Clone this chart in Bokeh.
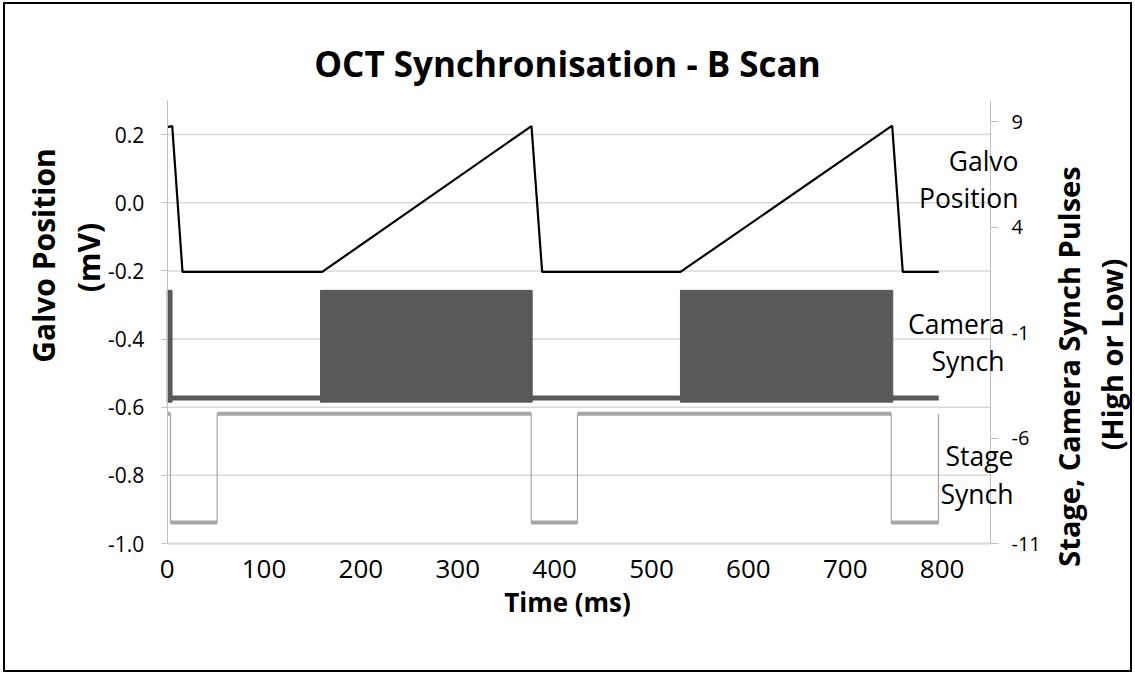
import numpy as np
from bokeh.plotting import figure
from bokeh.models import Range1d, LinearAxis, FixedTicker, PrintfTickFormatter, Label
from bokeh.embed import file_html
from bokeh.resources import INLINE

# ---------------- data ----------------
# Galvo position (mV) -- left axis
galvo_t = [0, 5.2, 15.8, 160.0, 376.1, 387.1, 529.9, 748.5, 759.4, 796.6]
galvo_v = [0.222, 0.225, -0.203, -0.203, 0.225, -0.203, -0.203, 0.226, -0.203, -0.203]

# Camera synch (right axis): low level and high-frequency pulse bursts
camera_span = [0, 796.6]
camera_low = -4.1
camera_high = 1.0
camera_burst_start = [0, 158.3, 529.9]
camera_burst_end = [5.0, 376.8, 749.1]

# Stage synch (right axis): edge times, starting high
stage_edges = [3.4, 51.6, 375.8, 423.6, 747.5, 796.3]
stage_high = -4.85
stage_low = -10.0

x_ticks = [0, 100, 200, 300, 400, 500, 600, 700, 800]
left_ticks = [-1.0, -0.8, -0.6, -0.4, -0.2, 0.0, 0.2]
right_ticks = [-11, -6, -1, 4, 9]

X_MIN, X_MAX = 0, 850          # time axis extent (ms)
L_MIN, L_MAX = -1.0, 0.3       # galvo axis (mV)
R_MIN, R_MAX = -11, 10         # pulse axis

FONT = "Open Sans"

# ---- layout helpers: page pixels of the plotting area ----
FL, FR, FT, FB = 166.7, 990.0, 100.0, 543.0      # plot area box on the page
CL, CT, CW, CH = 5, 4, 1129, 670                 # canvas box on the page


def px_x(px):
    return X_MIN + (px - FL) * (X_MAX - X_MIN) / (FR - FL)


def px_y(py):
    return L_MAX - (py - FT) * (L_MAX - L_MIN) / (FB - FT)


def px_yr(py):
    return R_MAX - (py - FT) * (R_MAX - R_MIN) / (FB - FT)


p = figure(width=CW, height=CH, output_backend="svg", toolbar_location=None,
           x_range=Range1d(px_x(CL), px_x(CL + CW)),
           y_range=Range1d(px_y(CT + CH), px_y(CT)),
           min_border=0, min_border_left=0, min_border_right=0,
           min_border_top=0, min_border_bottom=0)
p.styles = {"border": "2px solid black", "margin-left": "3px", "margin-top": "2px",
            "box-sizing": "border-box"}
p.outline_line_color = None
p.background_fill_color = "white"
p.border_fill_color = "white"
p.xgrid.grid_line_color = None
p.ygrid.grid_line_color = None

p.extra_y_ranges = {"right": Range1d(px_yr(CT + CH), px_yr(CT))}

# x axis
p.xaxis.fixed_location = L_MIN
p.xaxis.bounds = (X_MIN, X_MAX)
p.xaxis.ticker = FixedTicker(ticks=x_ticks)
p.xaxis.axis_line_color = "#d9d9d9"
p.xaxis.axis_line_width = 2
p.xaxis.major_tick_line_color = None
p.xaxis.minor_tick_line_color = None
p.xaxis.major_label_text_font = FONT
p.xaxis.major_label_text_font_size = "26px"
p.xaxis.major_label_text_color = "black"
p.xaxis.major_label_standoff = 10

# left axis
p.yaxis.fixed_location = X_MIN
p.yaxis.bounds = (L_MIN, L_MAX)
p.yaxis.ticker = FixedTicker(ticks=left_ticks)
p.yaxis.formatter = PrintfTickFormatter(format="%.1f")
p.yaxis.axis_line_color = "#bfbfbf"
p.yaxis.major_tick_line_color = "#bfbfbf"
p.yaxis.major_tick_out = 6
p.yaxis.major_tick_in = 0
p.yaxis.minor_tick_line_color = None
p.yaxis.major_label_text_font = FONT
p.yaxis.major_label_text_font_size = "21px"
p.yaxis.major_label_text_color = "black"
p.yaxis.major_label_standoff = 17

# right axis
ry = LinearAxis(y_range_name="right", ticker=FixedTicker(ticks=right_ticks),
                formatter=PrintfTickFormatter(format="%d"))
ry.fixed_location = X_MAX
ry.bounds = (R_MIN, R_MAX)
ry.axis_line_color = "#bfbfbf"
ry.major_tick_line_color = "#bfbfbf"
ry.major_tick_out = 8
ry.major_tick_in = 0
ry.minor_tick_line_color = None
ry.major_label_text_font = FONT
ry.major_label_text_font_size = "20px"
ry.major_label_text_color = "black"
ry.major_label_standoff = 13
p.add_layout(ry, "right")

# horizontal gridlines limited to the plotting area
p.segment(x0=[X_MIN] * len(left_ticks), y0=left_ticks, x1=[X_MAX] * len(left_ticks),
          y1=left_ticks, line_color="#d9d9d9", line_width=1.5)

# ---------------- glyphs ----------------
st_x, st_y = [0], [stage_high]
level = stage_high
for e in stage_edges:
    st_x.append(e); st_y.append(level)
    level = stage_low if level == stage_high else stage_high
    st_x.append(e); st_y.append(level)
seg_x0 = [0] + stage_edges[:-1]
seg_x1 = stage_edges
seg_y = []
level = stage_high
for _ in stage_edges:
    seg_y.append(level)
    level = stage_low if level == stage_high else stage_high

STAGE = "#a6a6a6"
CAM = "#595959"
p.line(st_x, st_y, y_range_name="right", line_color=STAGE, line_width=1.2)
p.segment(x0=seg_x0, y0=seg_y, x1=seg_x1, y1=seg_y, y_range_name="right",
          line_color=STAGE, line_width=4)

p.line(camera_span, [camera_low, camera_low], y_range_name="right", line_color=CAM, line_width=5)
p.quad(left=camera_burst_start, right=camera_burst_end,
       bottom=[camera_low - 0.2] * len(camera_burst_start),
       top=[camera_high] * len(camera_burst_start),
       y_range_name="right", fill_color=CAM, line_color=CAM, line_width=1)

p.line(galvo_t, galvo_v, line_color="black", line_width=2.2)


# ---------------- texts ----------------
def lab(px, py, text, size, bold=False, align="center", angle=0.0):
    p.add_layout(Label(x=px_x(px), y=px_y(py), text=text, text_font=FONT,
                       text_font_size=size, text_font_style="bold" if bold else "normal",
                       text_align=align, text_baseline="middle", angle=angle,
                       text_color="black"))


lab(567, 63, "OCT Synchronisation - B Scan", "35px", bold=True)
lab(567, 601, "Time (ms)", "26px", bold=True)
lab(43, 255, "Galvo Position", "30px", bold=True, angle=np.pi / 2)
lab(88, 257, "(mV)", "30px", bold=True, angle=np.pi / 2)
lab(1068, 366, "Stage, Camera Synch Pulses", "29px", bold=True, angle=np.pi / 2)
lab(1111, 354, "(High or Low)", "29px", bold=True, angle=np.pi / 2)

lab(1018, 160, "Galvo", "26.5px", align="right")
lab(1018, 197, "Position", "26.5px", align="right")
lab(1004, 323, "Camera", "26.5px", align="right")
lab(1004, 360, "Synch", "26.5px", align="right")
lab(1013, 455, "Stage", "26.5px", align="right")
lab(1013, 493, "Synch", "26.5px", align="right")

open("out.html", "w").write(file_html(p, INLINE))
